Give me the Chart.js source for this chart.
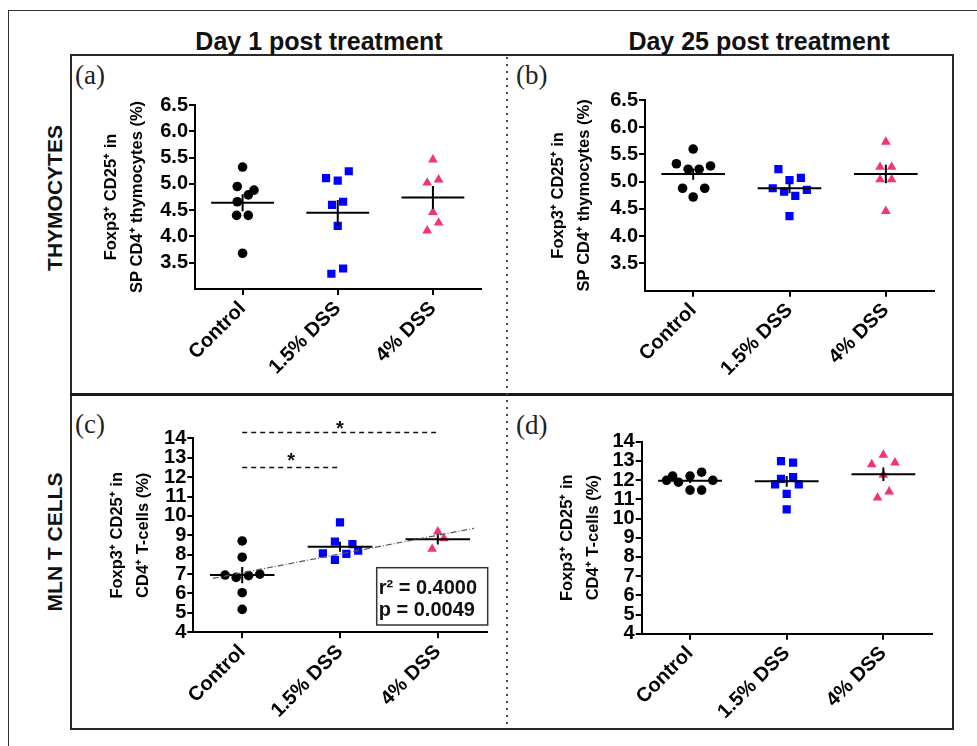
<!DOCTYPE html>
<html>
<head>
<meta charset="utf-8">
<script src="https://cdn.jsdelivr.net/npm/chart.js@4.4.0/dist/chart.umd.min.js"></script>
<style>
  html, body { margin: 0; padding: 0; background: #fff; }
  body { width: 977px; height: 746px; position: relative; overflow: hidden; font-family: 'Liberation Sans', Arial, sans-serif; }
  .abs { position: absolute; }
  #outer { left: 8px; top: 10px; width: 1100px; height: 900px; border-left: 1.5px solid #333; border-top: 1.5px solid #333; }
  #inner { left: 70px; top: 54px; width: 880px; height: 672px; border: 2px solid #2a2a2a; }
  #hline { left: 70px; top: 393px; width: 884px; height: 3px; background: #1a1a1a; }
  #vline { left: 506px; top: 57px; width: 2px; height: 670px;
           background: repeating-linear-gradient(to bottom, #444 0 2px, transparent 2px 7px); }
  .head { top: 29px; width: 320px; text-align: center; font-family: 'Liberation Sans', Arial, sans-serif;
          font-weight: bold; font-size: 25px; line-height: 25px; color: #111; }
  .row { width: 220px; height: 26px; line-height: 26px; text-align: center; font-weight: bold; font-size: 21px;
         transform: rotate(-90deg); color: #111; }
  .tag { font-family: 'Liberation Serif', 'Times New Roman', serif; font-size: 27px; line-height: 27px; color: #222; }
  canvas { position: absolute; }
</style>
</head>
<body>
<div id="outer" class="abs"></div>
<div id="inner" class="abs"></div>
<div id="hline" class="abs"></div>
<div id="vline" class="abs"></div>
<div class="abs head" style="left:159px;">Day 1 post treatment</div>
<div class="abs head" style="left:599px;">Day 25 post treatment</div>
<div class="abs row" style="left:-55px; top:185px;">THYMOCYTES</div>
<div class="abs row" style="left:-55px; top:529px;">MLN T CELLS</div>
<div class="abs tag" style="left:75px; top:62px;">(a)</div>
<div class="abs tag" style="left:516px; top:62px;">(b)</div>
<div class="abs tag" style="left:75px; top:411px;">(c)</div>
<div class="abs tag" style="left:516px; top:412px;">(d)</div>
<canvas id="chartA" width="433" height="336" style="left:72px; top:56px;"></canvas>
<canvas id="chartB" width="442" height="336" style="left:509px; top:56px;"></canvas>
<canvas id="chartC" width="433" height="331" style="left:72px; top:396px;"></canvas>
<canvas id="chartD" width="442" height="331" style="left:509px; top:396px;"></canvas>
<script>
// Categories and axis ticks
const groups = ['Control', '1.5% DSS', '4% DSS'];
const catTicks = [0, 1, 2];
const thymoTicks = [3.5, 4.0, 4.5, 5.0, 5.5, 6.0, 6.5];
const mlnTicks = [4, 5, 6, 7, 8, 9, 10, 11, 12, 13, 14];

// (a) Day 1 - thymocytes
const aControl = [5.32, 4.95, 4.88, 4.79, 4.66, 4.40, 4.40, 3.68];
const aControlX = [0, -0.056, 0.12, 0.06, -0.056, -0.063, 0.06, 0];
const aDss15 = [5.11, 5.06, 5.24, 4.60, 4.66, 4.20, 3.29, 3.39];
const aDss15X = [-0.123, 0, 0.116, -0.06, 0.056, 0, -0.067, 0.056];
const aDss4 = [5.46, 5.02, 5.08, 4.46, 4.26, 4.11];
const aDss4X = [0, -0.06, 0.06, 0, 0.06, -0.06];
const aMean = [4.64, 4.45, 4.74];
const aSem = [0.16, 0.245, 0.22];

// (b) Day 25 - thymocytes
const bControl = [5.60, 5.33, 5.23, 5.23, 5.29, 4.88, 4.88, 4.72];
const bControlX = [0, -0.174, -0.052, 0.062, 0.18, -0.11, 0.12, 0];
const bDss15 = [5.23, 5.03, 5.07, 4.88, 4.82, 4.85, 4.74, 4.37];
const bDss15X = [-0.115, 0, 0.118, -0.174, -0.056, 0.18, 0.06, 0];
const bDss4 = [5.73, 5.27, 5.27, 5.04, 5.04, 4.46];
const bDss4X = [0, -0.06, 0.06, -0.06, 0.06, 0];
const bMean = [5.14, 4.88, 5.14];
const bSem = [0.105, 0.09, 0.17];

// (c) Day 1 - MLN T cells
const cControl = [8.71, 7.87, 6.95, 6.83, 6.92, 7.00, 6.04, 5.18];
const cControlX = [0, 0, -0.175, -0.062, 0.065, 0.18, 0, 0];
const cDss15 = [9.67, 8.67, 8.55, 8.07, 8.04, 8.21, 7.73];
const cDss15X = [0, -0.052, 0.127, -0.175, 0.065, 0.186, -0.052];
const cDss4 = [9.19, 8.84, 8.29];
const cDss4X = [0, 0.062, -0.058];
const cMean = [6.95, 8.41, 8.79];
const cSem = [0.42, 0.26, 0.27];
const cTrendX = [-0.30, 2.37];
const cTrendY = [6.78, 9.36];
const sigLong = { x: [0, 2], y: 14.3, starX: 1, starY: 14.75 };
const sigShort = { x: [0, 1], y: 12.5, starX: 0.5, starY: 13.1 };
const cStats = ['r\u00B2 = 0.4000', 'p = 0.0049'];

// (d) Day 25 - MLN T cells
const dControl = [11.99, 12.21, 11.89, 12.21, 12.41, 11.99, 11.48, 11.48];
const dControlX = [-0.243, -0.18, -0.12, 0, 0.12, 0.236, 0, 0.12];
const dDss15 = [12.99, 12.91, 12.06, 12.15, 11.78, 11.78, 11.28, 10.48];
const dDss15X = [-0.059, 0.066, -0.059, 0.066, -0.12, 0.125, 0, 0];
const dDss4 = [13.31, 12.82, 12.91, 12.27, 11.40, 11.08];
const dDss4X = [0, -0.12, 0.12, 0, 0.06, -0.06];
const dMean = [11.97, 11.94, 12.30];
const dSem = [0.12, 0.28, 0.35];

const thymoTitle = ['Foxp3\u207A CD25\u207A in', 'SP CD4\u207A thymocytes (%)'];
const mlnTitle = ['Foxp3\u207A CD25\u207A in', 'CD4\u207A T-cells (%)'];

// marker look per group
const colors = ['#000000', '#0000ff', '#f2327a'];
const shapes = ['circle', 'rect', 'triangle'];
const radii = [4.8, 5.8, 5.6];
const FONT = "'Liberation Sans', Arial, sans-serif";
const halfMean = 0.33;

function toPoints(center, offs, vals) {
    return vals.map((v, i) => ({ x: center + offs[i], y: v }));
}

function buildDatasets(vals, offs, means, sems) {
    const lines = [];
    const marks = [];
    for (let g = 0; g < 3; g++) {
        lines.push({
            data: [{ x: g - halfMean, y: means[g] }, { x: g + halfMean, y: means[g] }],
            showLine: true, borderColor: '#000', borderWidth: 2, pointRadius: 0
        });
        lines.push({
            data: [{ x: g, y: means[g] - sems[g] }, { x: g, y: means[g] + sems[g] }],
            showLine: true, borderColor: '#000', borderWidth: 2, pointRadius: 0
        });
        marks.push({
            data: toPoints(g, offs[g], vals[g]),
            pointStyle: shapes[g], pointRadius: radii[g], borderWidth: 0,
            backgroundColor: colors[g], borderColor: colors[g]
        });
    }
    return lines.concat(marks);
}

// overlay text: stars and stats box
const extrasPlugin = {
    id: 'extras',
    afterDatasetsDraw(chart, args, opts) {
        if (!opts.stars) return;
        const ctx = chart.ctx;
        const xs = chart.scales.x, ys = chart.scales.y;
        ctx.save();
        ctx.fillStyle = '#111';
        ctx.font = 'bold 20px ' + FONT;
        ctx.textAlign = 'center';
        ctx.textBaseline = 'alphabetic';
        opts.stars.forEach(s => {
            ctx.fillText('*', xs.getPixelForValue(s.starX), ys.getPixelForValue(s.starY) + 11);
        });
        if (opts.stats) {
            const ca = chart.chartArea;
            const bx = ca.right - 110, by = ca.bottom - 64.6;
            ctx.lineWidth = 1.5;
            ctx.strokeStyle = '#333';
            ctx.strokeRect(bx, by, 111, 57.3);
            ctx.textAlign = 'left';
            ctx.textBaseline = 'middle';
            ctx.font = 'bold 20px ' + FONT;
            ctx.fillText(opts.stats[0], bx + 2, by + 21);
            ctx.fillText(opts.stats[1], bx + 2, by + 43);
        }
        ctx.restore();
    }
};

function makePanel(id, cfg) {
    const box = cfg.box, area = cfg.area;
    const yw = area.l - box.l - 2;
    const xh = box.t + box.h - area.b - 2;
    const axisLook = {
        grid: { drawOnChartArea: false, drawTicks: true, tickLength: 6, lineWidth: 2, color: '#000' },
        border: { display: true, width: 2, color: '#000' }
    };
    let datasets = buildDatasets(cfg.vals, cfg.offs, cfg.means, cfg.sems);
    if (cfg.extraSets) datasets = cfg.extraSets.concat(datasets);
    return new Chart(document.getElementById(id), {
        type: 'scatter',
        data: { datasets: datasets },
        plugins: [extrasPlugin],
        options: {
            responsive: false,
            animation: false,
            devicePixelRatio: 1,
            layout: {
                padding: { left: 2, top: area.t - box.t, right: box.l + box.w - area.r, bottom: 2 }
            },
            plugins: {
                legend: { display: false },
                tooltip: { enabled: false },
                extras: { stars: cfg.stars, stats: cfg.stats }
            },
            scales: {
                x: Object.assign({
                    type: 'linear', min: -0.5, max: 2.5,
                    afterBuildTicks: s => { s.ticks = catTicks.map(v => ({ value: v })); },
                    afterFit: s => { s.height = xh; s.paddingLeft = 0; s.paddingRight = 0; },
                    ticks: {
                        callback: v => groups[v], minRotation: 45, maxRotation: 45, padding: 2, autoSkip: false,
                        color: '#000', font: { family: FONT, size: 20, weight: 'bold' }
                    }
                }, axisLook),
                y: Object.assign({
                    min: cfg.yMin, max: cfg.yMax,
                    afterBuildTicks: s => { s.ticks = cfg.yTicks.map(v => ({ value: v })); },
                    afterFit: s => { s.width = yw; s.paddingTop = 0; s.paddingBottom = 0; },
                    ticks: {
                        callback: v => v.toFixed(cfg.decimals), padding: 1, autoSkip: false,
                        color: '#000', font: { family: FONT, size: 20, weight: 'bold' }
                    },
                    title: {
                        display: true, text: cfg.title, color: '#000',
                        font: { family: FONT, size: 16.5, weight: 'bold', lineHeight: 26 / 16.5 },
                        padding: { top: cfg.titleX - box.l - 2 - 13, bottom: 0 }
                    }
                }, axisLook)
            }
        }
    });
}

makePanel('chartA', {
    box: { l: 72, t: 56, w: 433, h: 336 }, area: { l: 195, t: 105, r: 480.5, b: 289 }, titleX: 111,
    vals: [aControl, aDss15, aDss4], offs: [aControlX, aDss15X, aDss4X], means: aMean, sems: aSem,
    yMin: 3.0, yMax: 6.5, yTicks: thymoTicks, decimals: 1, title: thymoTitle
});

makePanel('chartB', {
    box: { l: 509, t: 56, w: 442, h: 336 }, area: { l: 645, t: 100, r: 934, b: 290.7 }, titleX: 558,
    vals: [bControl, bDss15, bDss4], offs: [bControlX, bDss15X, bDss4X], means: bMean, sems: bSem,
    yMin: 3.0, yMax: 6.5, yTicks: thymoTicks, decimals: 1, title: thymoTitle
});

const dashed = { showLine: true, borderColor: '#111', borderWidth: 1.5, borderDash: [5, 4], pointRadius: 0, clip: false };
makePanel('chartC', {
    box: { l: 72, t: 396, w: 433, h: 331 }, area: { l: 193.3, t: 438.3, r: 486.7, b: 632.3 }, titleX: 117,
    vals: [cControl, cDss15, cDss4], offs: [cControlX, cDss15X, cDss4X], means: cMean, sems: cSem,
    yMin: 4, yMax: 14, yTicks: mlnTicks, decimals: 0, title: mlnTitle,
    stars: [sigLong, sigShort], stats: cStats,
    extraSets: [
        Object.assign({ data: sigLong.x.map(x => ({ x: x, y: sigLong.y })) }, dashed),
        Object.assign({ data: sigShort.x.map(x => ({ x: x, y: sigShort.y })) }, dashed),
        {
            data: cTrendX.map((x, i) => ({ x: x, y: cTrendY[i] })),
            showLine: true, borderColor: '#555', borderWidth: 1.2, borderDash: [6, 2, 1, 2], pointRadius: 0
        }
    ]
});

makePanel('chartD', {
    box: { l: 509, t: 396, w: 442, h: 331 }, area: { l: 641.7, t: 441.7, r: 931.7, b: 633.7 }, titleX: 567,
    vals: [dControl, dDss15, dDss4], offs: [dControlX, dDss15X, dDss4X], means: dMean, sems: dSem,
    yMin: 4, yMax: 14, yTicks: mlnTicks, decimals: 0, title: mlnTitle
});
</script>
</body>
</html>
